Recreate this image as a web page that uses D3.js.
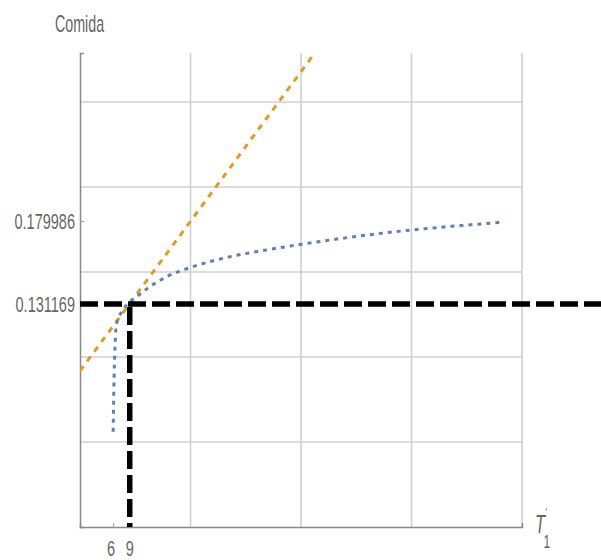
<!DOCTYPE html>
<html>
<head>
<meta charset="utf-8">
<script src="https://d3js.org/d3.v7.min.js"></script>
<style>
  body { margin: 0; background: #fff; }
  svg { display: block; }
  text { font-family: "Liberation Sans", Arial, sans-serif; fill: #666; }
</style>
</head>
<body>
<div id="chart"></div>
<script>
// curve (x, food)
const blueX = [6.0, 6.12, 6.33, 6.64, 7.55, 8.74, 10.26, 12.67, 15.69, 20.22, 23.53, 28.36, 33.12, 36.2, 40.13, 45.25, 52.13, 60.0, 68.2, 76.3];
const blueY = [0.056, 0.08, 0.106, 0.1198, 0.1266, 0.1316, 0.1355, 0.1414, 0.1472, 0.1529, 0.1561, 0.1598, 0.1626, 0.1643, 0.1663, 0.1688, 0.1718, 0.1747, 0.1771, 0.1792];

// tangent line end points
const orangeX = [0, 42.5];
const orangeY = [0.0918, 0.2788];

const xTicks = [6, 9];
const yTicks = [0.131169, 0.179986];
const xGrid = [20, 40, 60, 80];
const yGrid = [0.05, 0.10, 0.15, 0.20, 0.25];

const markX = 9;
const markY = 0.131169;

const width = 601, height = 560;
const margin = {left: 80, right: 79, top: 53, bottom: 33};

const svg = d3.select("#chart").append("svg")
    .attr("width", width)
    .attr("height", height);

const x = d3.scaleLinear().domain([0, 80]).range([margin.left, width - margin.right]);
const y = d3.scaleLinear().domain([0, 0.2788]).range([height - margin.bottom, margin.top]);

svg.append("defs").append("clipPath").attr("id", "plot")
    .append("rect")
    .attr("x", x(0)).attr("y", y(0.2788))
    .attr("width", x(80) - x(0)).attr("height", y(0) - y(0.2788));

// grid
svg.append("g").selectAll("line").data(xGrid).enter().append("line")
    .attr("x1", d => x(d)).attr("x2", d => x(d))
    .attr("y1", y(0)).attr("y2", y(0.2788))
    .attr("stroke", "#d0d0d0").attr("stroke-width", 1.6);
svg.append("g").selectAll("line").data(yGrid).enter().append("line")
    .attr("x1", x(0)).attr("x2", x(80))
    .attr("y1", d => y(d)).attr("y2", d => y(d))
    .attr("stroke", "#d0d0d0").attr("stroke-width", 1.6);

// axes
svg.append("g")
    .attr("transform", "translate(0," + y(0) + ")")
    .call(d3.axisBottom(x).tickValues(xTicks).tickSize(-4).tickFormat(""))
    .call(g => g.select(".domain").attr("stroke", "#888").attr("stroke-width", 1.5))
    .call(g => g.selectAll(".tick line").attr("stroke", "#999"));
svg.append("g")
    .attr("transform", "translate(" + x(0) + ",0)")
    .call(d3.axisLeft(y).tickValues(yTicks).tickSize(-4).tickFormat(""))
    .call(g => g.select(".domain").attr("stroke", "#888").attr("stroke-width", 1.5))
    .call(g => g.selectAll(".tick line").attr("stroke", "#999"));

// tick labels, narrow like the original export
const sx = 0.66;
yTicks.forEach(v => {
    svg.append("text")
        .attr("transform", "translate(75," + (y(v) + 8) + ") scale(" + sx + ",1)")
        .attr("text-anchor", "end")
        .attr("font-size", 22)
        .text(String(v));
});
xTicks.forEach(v => {
    svg.append("text")
        .attr("transform", "translate(" + (x(v) + (v === 6 ? -2 : 0)) + ",556) scale(" + sx + ",1)")
        .attr("text-anchor", "middle")
        .attr("font-size", 22)
        .text(String(v));
});

svg.append("text")
    .attr("transform", "translate(55,32) scale(0.62,1)")
    .attr("font-size", 23)
    .text("Comida");

const tl = svg.append("text")
    .attr("transform", "translate(535,533) scale(" + sx + ",1)")
    .attr("font-size", 25)
    .attr("font-style", "italic");
tl.append("tspan").text("T");
tl.append("tspan").attr("dy", -16).attr("font-size", 13).text("'");
tl.append("tspan").attr("dx", -5).attr("dy", 31).attr("font-size", 18).attr("font-style", "normal").text("1");

// series
const line = d3.line().x(d => x(d[0])).y(d => y(d[1]));

svg.append("path")
    .datum(d3.zip(orangeX, orangeY))
    .attr("clip-path", "url(#plot)")
    .attr("d", line)
    .attr("fill", "none")
    .attr("stroke", "#e19c24")
    .attr("stroke-width", 3)
    .attr("stroke-dasharray", "6,6");

svg.append("path")
    .datum(d3.zip(blueX, blueY))
    .attr("d", line.curve(d3.curveMonotoneX))
    .attr("fill", "none")
    .attr("stroke", "#5e81b5")
    .attr("stroke-width", 3)
    .attr("stroke-dasharray", "4,5");

// marker lines
svg.append("line")
    .attr("x1", x(0)).attr("x2", width)
    .attr("y1", y(markY)).attr("y2", y(markY))
    .attr("stroke", "#000").attr("stroke-width", 5.5)
    .attr("stroke-dasharray", "18,6");
svg.append("line")
    .attr("x1", x(markX)).attr("x2", x(markX))
    .attr("y1", y(markY)).attr("y2", y(0))
    .attr("stroke", "#000").attr("stroke-width", 5.5)
    .attr("stroke-dasharray", "18,6")
    .attr("stroke-dashoffset", 21);
</script>
</body>
</html>
